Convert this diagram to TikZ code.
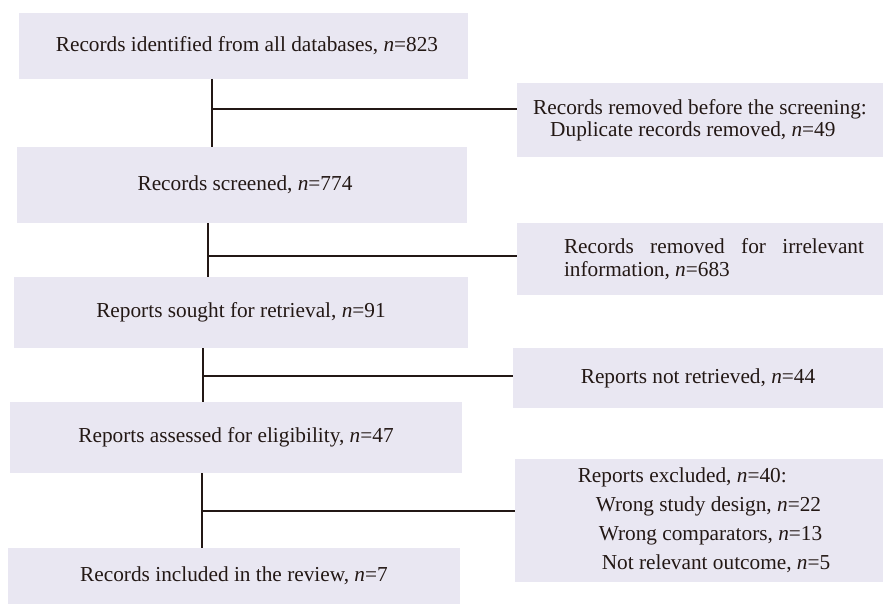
\documentclass[tikz,border=0pt]{standalone}
\usepackage{fontspec}
\setmainfont{Liberation Serif}
\definecolor{boxfill}{HTML}{E9E7F2}
\definecolor{inkcol}{HTML}{231815}
\begin{document}
\begin{tikzpicture}[x=1pt,y=-1pt,
  box/.style={fill=boxfill, draw=none, inner sep=0pt, outer sep=0pt,
    text=inkcol, font=\fontsize{21.3}{22}\selectfont},
  conn/.style={draw=inkcol, line width=2pt}]
\useasboundingbox (0,0) rectangle (883,604);
% left column
\node[box, minimum width=449pt, minimum height=66pt] (b1) at (243.5,46)
  {\hspace{7pt}Records identified from all databases, \textit{n}=823};
\node[box, minimum width=450pt, minimum height=76pt] (b2) at (242,185)
  {\hspace{6pt}Records screened, \textit{n}=774};
\node[box, minimum width=454pt, minimum height=71pt] (b3) at (241,312.5)
  {Reports sought for retrieval, \textit{n}=91\hspace{28pt}};
\node[box, minimum width=452pt, minimum height=71pt] (b4) at (236,437.5)
  {Reports assessed for eligibility, \textit{n}=47};
\node[box, minimum width=452pt, minimum height=56pt] (b5) at (234,576)
  {Records included in the review, \textit{n}=7\hspace{48pt}};
% right column
\node[box, minimum width=366pt, minimum height=74pt, align=left] (r1) at (700,120)
  {Records removed before the screening:\\
   \hspace*{17pt}Duplicate records removed, \textit{n}=49};
\node[box, minimum width=366pt, minimum height=72pt, align=left,
  font=\fontsize{21.3}{23}\selectfont] (r2) at (700,259)
  {\hspace*{28pt}\makebox[300pt][s]{Records removed for irrelevant}\\
   \hspace*{28pt}information, \textit{n}=683};
\node[box, minimum width=370pt, minimum height=60pt] (r3) at (698,378)
  {Reports not retrieved, \textit{n}=44};
\node[box, minimum width=368pt, minimum height=123pt, align=left,
  font=\fontsize{21.3}{29}\selectfont] (r4) at (699,520.5)
  {\hspace*{10pt}Reports excluded, \textit{n}=40:\\
   \hspace*{28pt}Wrong study design, \textit{n}=22\\
   \hspace*{31pt}Wrong comparators, \textit{n}=13\\
   \hspace*{34pt}Not relevant outcome, \textit{n}=5};
% connectors
\coordinate (j1) at (212,109);
\coordinate (j2) at (208,256);
\coordinate (j3) at (203,376);
\coordinate (j4) at (202,511);
\draw[conn] (b1.south -| j1) -- (b2.north -| j1);
\draw[conn] (j1) -- (r1.west |- j1);
\draw[conn] (b2.south -| j2) -- (b3.north -| j2);
\draw[conn] (j2) -- (r2.west |- j2);
\draw[conn] (b3.south -| j3) -- (b4.north -| j3);
\draw[conn] (j3) -- (r3.west |- j3);
\draw[conn] (b4.south -| j4) -- (b5.north -| j4);
\draw[conn] (j4) -- (r4.west |- j4);
\end{tikzpicture}
\end{document}
